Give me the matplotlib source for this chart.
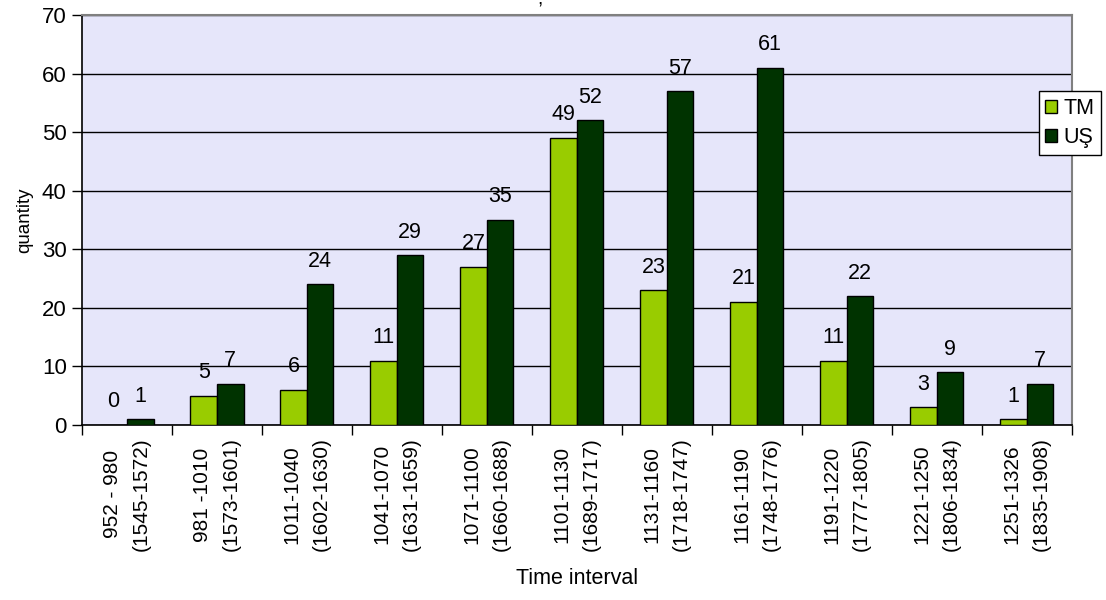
import matplotlib.pyplot as plt
import numpy as np

plt.rcParams["font.family"] = ["Liberation Sans", "DejaVu Sans"]

intervals = ["952 - 980", "981 -1010", "1011-1040", "1041-1070", "1071-1100",
             "1101-1130", "1131-1160", "1161-1190", "1191-1220", "1221-1250",
             "1251-1326"]
years = ["(1545-1572)", "(1573-1601)", "(1602-1630)", "(1631-1659)",
         "(1660-1688)", "(1689-1717)", "(1718-1747)", "(1748-1776)",
         "(1777-1805)", "(1806-1834)", "(1835-1908)"]
tm = [0, 5, 6, 11, 27, 49, 23, 21, 11, 3, 1]
us = [1, 7, 24, 29, 35, 52, 57, 61, 22, 9, 7]

fig = plt.figure(figsize=(11.06, 6), dpi=100)
ax = fig.add_axes([0.0741, 0.2917, 0.8951, 0.6833])
ax.set_facecolor("#E6E6FA")

x = np.arange(len(tm))
w = 0.295
b1 = ax.bar(x - w / 2, tm, w, color="#99CC00", edgecolor="black", linewidth=1, label="TM", zorder=3)
b2 = ax.bar(x + w / 2, us, w, color="#003300", edgecolor="black", linewidth=1, label="UŞ", zorder=3)

for bars, vals in ((b1, tm), (b2, us)):
    for rect, v in zip(bars, vals):
        ax.annotate(str(v), (rect.get_x() + rect.get_width() / 2, v),
                    xytext=(0, 9), textcoords="offset points",
                    ha="center", va="bottom", fontsize=15.5)

ax.set_xlim(-0.5, len(tm) - 0.5)
ax.set_ylim(0, 70)
ax.set_yticks(range(0, 71, 10))
ax.yaxis.grid(True, color="black", linewidth=1, zorder=1)
ax.set_axisbelow(True)

# group boundaries get the visible ticks, group centres carry the labels
ax.set_xticks(np.arange(len(tm) + 1) - 0.5)
ax.set_xticklabels([])
ax.set_xticks(x, minor=True)
ax.set_xticklabels([f"{a}\n{b}" for a, b in zip(intervals, years)], minor=True,
                   rotation=90, multialignment="center", fontsize=15,
                   linespacing=1.7)
ax.tick_params(axis="x", which="minor", length=0, pad=9)
ax.tick_params(axis="x", which="major", direction="out", length=7, width=1)
ax.tick_params(axis="y", direction="out", length=7, width=1, labelsize=16, pad=4)

for s in ("top", "right"):
    ax.spines[s].set_color("#808080")
    ax.spines[s].set_linewidth(1.5)
for s in ("left", "bottom"):
    ax.spines[s].set_color("black")
    ax.spines[s].set_linewidth(1.2)

ax.set_xlabel("Time interval", fontsize=15.5, labelpad=12)
ax.set_ylabel("quantity", fontsize=13.5, labelpad=6)

leg = ax.legend(loc="upper left", bbox_to_anchor=(0.9667, 0.814), fontsize=15.5,
                frameon=True, fancybox=False, handlelength=0.55, handleheight=0.55,
                handletextpad=0.3, borderpad=0.3, labelspacing=0.4,
                borderaxespad=0)
leg.get_frame().set_edgecolor("black")
leg.get_frame().set_linewidth(1)
leg.get_frame().set_alpha(1)

fig.text(0.488, 1.0, ",", ha="center", va="center", fontsize=14)

fig.savefig("out.png", dpi=100)
